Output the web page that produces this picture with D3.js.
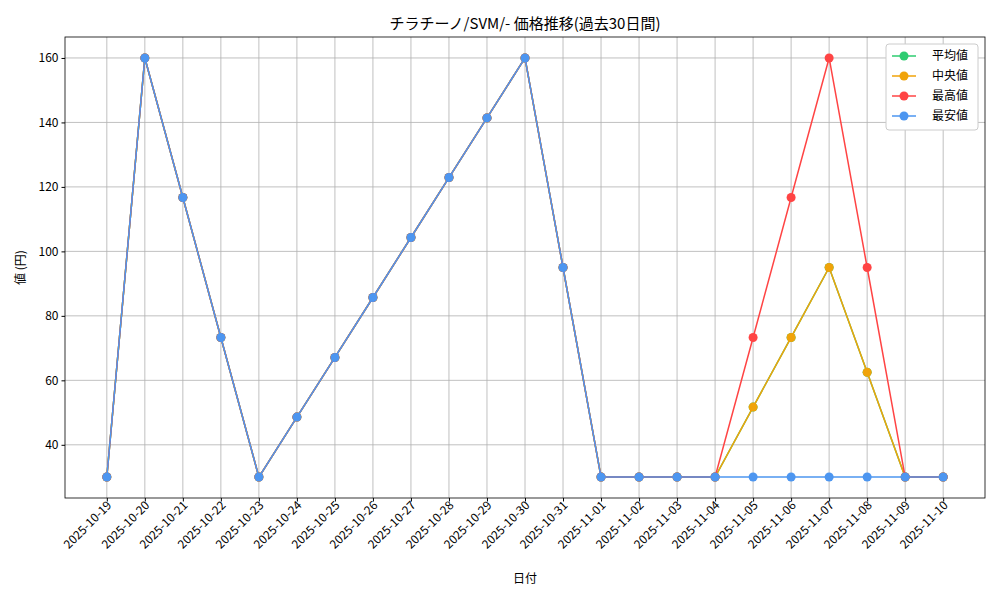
<!DOCTYPE html>
<html><head><meta charset="utf-8">
<script src="https://cdn.jsdelivr.net/npm/d3@7"></script>
<style>body{margin:0;background:#fff}text{font-family:"Noto Sans CJK JP",sans-serif}</style>
</head><body><svg id="c" width="1000" height="600"></svg>
<script>
const dates=["2025-10-19","2025-10-20","2025-10-21","2025-10-22","2025-10-23","2025-10-24","2025-10-25","2025-10-26","2025-10-27","2025-10-28","2025-10-29","2025-10-30","2025-10-31","2025-11-01","2025-11-02","2025-11-03","2025-11-04","2025-11-05","2025-11-06","2025-11-07","2025-11-08","2025-11-09","2025-11-10"];
const base=[30,160,116.7,73.3,30,48.6,67.1,85.7,104.3,122.9,141.4,160,95,30,30,30,30];
const avgVals=base.concat([51.7,73.3,95,62.5,30,30]);
const medVals=base.concat([51.7,73.3,95,62.5,30,30]);
const maxVals=base.concat([73.3,116.7,160,95,30,30]);
const minVals=base.concat([30,30,30,30,30,30]);
const yTicks=[40,60,80,100,120,140,160];
const series=[{name:"平均値",v:avgVals,c:"#2ecc71"},{name:"中央値",v:medVals,c:"#f0a30a"},{name:"最高値",v:maxVals,c:"#ff4444"},{name:"最安値",v:minVals,c:"#4d96f0"}];
const L=65,R=985,T=37,B=498;
const svg=d3.select("#c");
const x=d3.scalePoint().domain(dates).range([L,R]).padding(1.1);
const y=d3.scaleLinear().domain([23.5,166.5]).range([B,T]);
const g=svg.append("g");
g.selectAll(".vg").data(dates).enter().append("line").attr("x1",d=>x(d)).attr("x2",d=>x(d)).attr("y1",T).attr("y2",B).attr("stroke","#b0b0b0").attr("stroke-width",0.8);
g.selectAll(".hg").data(yTicks).enter().append("line").attr("x1",L).attr("x2",R).attr("y1",d=>y(d)).attr("y2",d=>y(d)).attr("stroke","#b0b0b0").attr("stroke-width",0.8);
const xa=svg.append("g").attr("transform",`translate(0,${B})`).call(d3.axisBottom(x).tickSizeOuter(0).tickSize(3.5));
xa.select(".domain").remove();
xa.selectAll("text").attr("font-size",12).attr("fill","#000").attr("text-anchor","end").attr("dy",0).attr("y",0).attr("transform","translate(5,8) rotate(-45)");
const ya=svg.append("g").attr("transform",`translate(${L},0)`).call(d3.axisLeft(y).tickValues(yTicks).tickSize(3.5));
ya.select(".domain").remove();
ya.selectAll("text").attr("font-size",12).attr("fill","#000");
svg.append("rect").attr("x",L).attr("y",T).attr("width",R-L).attr("height",B-T).attr("fill","none").attr("stroke","#000").attr("stroke-width",0.8);
const line=d3.line().x((d,i)=>x(dates[i])).y(d=>y(d));
series.forEach(s=>{
 svg.append("path").attr("d",line(s.v)).attr("fill","none").attr("stroke",s.c).attr("stroke-width",1.5);
 svg.append("g").selectAll("circle").data(s.v).enter().append("circle").attr("cx",(d,i)=>x(dates[i])).attr("cy",d=>y(d)).attr("r",4.5).attr("fill",s.c);
});
svg.append("text").attr("x",(L+R)/2).attr("y",29).attr("text-anchor","middle").attr("font-size",15).text("チラチーノ/SVM/- 価格推移(過去30日間)");
svg.append("text").attr("x",(L+R)/2).attr("y",583).attr("text-anchor","middle").attr("font-size",12).text("日付");
svg.append("text").attr("transform",`translate(25,${(T+B)/2}) rotate(-90)`).attr("text-anchor","middle").attr("font-size",12).text("値 (円)");
const lg=svg.append("g").attr("transform","translate(886,44)");
lg.append("rect").attr("width",92).attr("height",86).attr("rx",3).attr("fill","#fff").attr("stroke","#ccc");
series.forEach((s,i)=>{const yy=12+i*20;
 lg.append("line").attr("x1",6).attr("x2",30).attr("y1",yy).attr("y2",yy).attr("stroke",s.c).attr("stroke-width",1.5);
 lg.append("circle").attr("cx",18).attr("cy",yy).attr("r",4.5).attr("fill",s.c);
 lg.append("text").attr("x",46).attr("y",yy+4).attr("font-size",12).text(s.name);});
</script></body></html>
